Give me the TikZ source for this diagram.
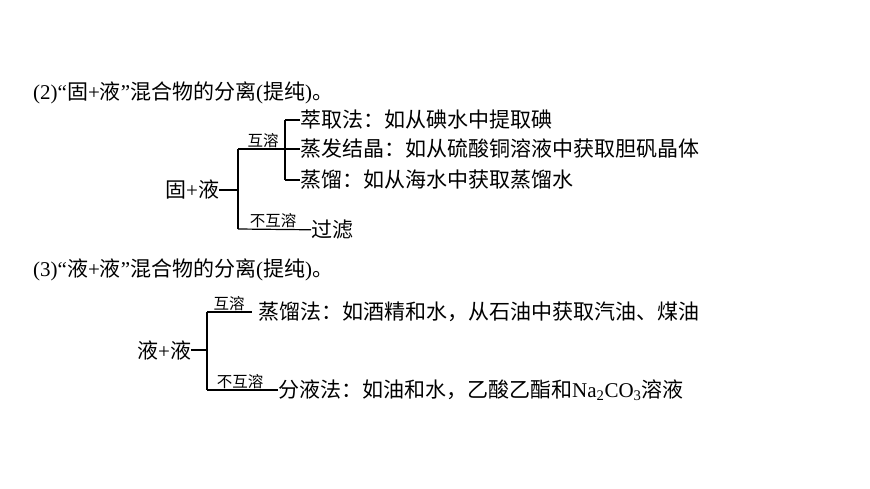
\documentclass[tikz,border=0pt]{standalone}
\usepackage{fontspec}
\setmainfont{Liberation Serif}
\newfontfamily\cjk{Noto Sans CJK SC}
\begin{document}
\begin{tikzpicture}[x=1pt,y=-1pt]
	\tikzset{item/.style = {anchor=west, inner sep=0pt, font=\fontsize{21}{21}\selectfont},
		tag/.style = {anchor=south, inner sep=1pt, font=\cjk\fontsize{15.5}{15.5}\selectfont},
		branch/.style = {line width=1.2pt}}
	\useasboundingbox (0,0) rectangle (870,489);

	\node[item] (T_2) at (33,93) {(2)“{\cjk 固}+{\cjk 液}”{\cjk 混合物的分离}(\cjk 提纯\rmfamily)\cjk 。};

	\node[item] (root_a) at (165,190) {\cjk 固\rmfamily +\cjk 液};
	\coordinate (J_a) at (238,190);
	\coordinate (U_a) at (238,149);
	\coordinate (D_a) at (238,229);
	\coordinate (M_a) at (285,149);
	\coordinate (V_1) at (285,120);
	\coordinate (V_3) at (285,180);
	\node[item] (S_1) at (300,120) {\cjk 萃取法：如从碘水中提取碘};
	\node[item] (S_2) at (300,149) {\cjk 蒸发结晶：如从硫酸铜溶液中获取胆矾晶体};
	\node[item] (S_3) at (300,180) {\cjk 蒸馏：如从海水中获取蒸馏水};
	\node[item] (S_4) at (311,230) {\cjk 过滤};
	\node[tag] (x) at (263,149) {互溶};
	\node[tag] (x) at (273,229) {不互溶};

	\draw[branch] (root_a)--(J_a);
	\draw[branch] (U_a)--(D_a);
	\draw[branch] (U_a)--(M_a);
	\draw[branch] (D_a)--(S_4);
	\draw[branch] (V_1)--(V_3);
	\draw[branch] (V_1)--(S_1);
	\draw[branch] (M_a)--(S_2);
	\draw[branch] (V_3)--(S_3);

	\node[item] (T_3) at (33,270) {(3)“{\cjk 液}+{\cjk 液}”{\cjk 混合物的分离}(\cjk 提纯\rmfamily)\cjk 。};

	\node[item] (root_b) at (137,350) {\cjk 液\rmfamily +\cjk 液};
	\coordinate (J_b) at (207,350);
	\coordinate (U_b) at (207,312);
	\coordinate (D_b) at (207,390);
	\coordinate (E_b) at (252,312);
	\node[item] (R_1) at (258,312) {\cjk 蒸馏法：如酒精和水，从石油中获取汽油、煤油};
	\node[item] (R_2) at (278,390) {\cjk 分液法：如油和水，乙酸乙酯和\rmfamily Na\textsubscript{2}CO\textsubscript{3}\cjk 溶液};
	\node[tag] (x) at (229,312) {互溶};
	\node[tag] (x) at (240,390) {不互溶};

	\draw[branch] (root_b)--(J_b);
	\draw[branch] (U_b)--(D_b);
	\draw[branch] (U_b)--(E_b);
	\draw[branch] (D_b)--(R_2);

\end{tikzpicture}
\end{document}
